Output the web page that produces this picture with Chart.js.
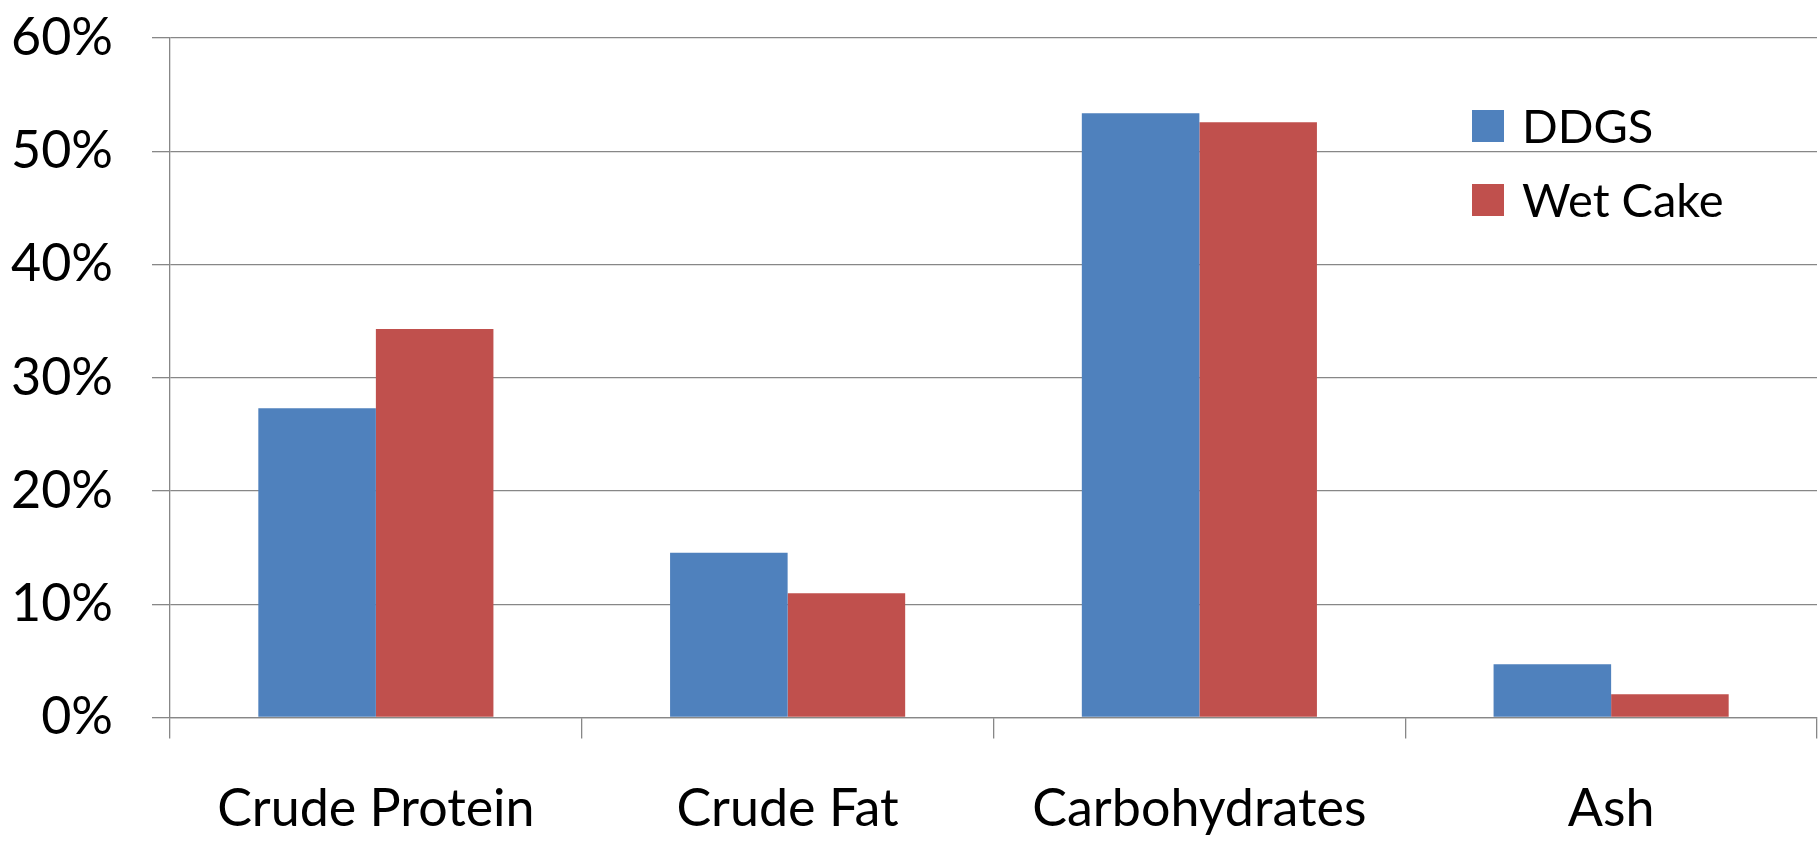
<!DOCTYPE html>
<html>
<head>
<meta charset="utf-8">
<script src="https://cdn.jsdelivr.net/npm/chart.js@4/dist/chart.umd.min.js"></script>
<style>
  html, body { margin: 0; padding: 0; background: #fff; }
  #wrap { width: 1820px; height: 849px; }
</style>
</head>
<body>
<div id="wrap"><canvas id="chart"></canvas></div>
<script>
// Data
const categories = ["Crude Protein", "Crude Fat", "Carbohydrates", "Ash"];
const ddgs = [27.3, 14.55, 53.35, 4.7];
const wetCake = [34.3, 10.97, 52.56, 2.05];
const yTicks = [0, 10, 20, 30, 40, 50, 60];

const FONT = "Lato, 'Open Sans', sans-serif";
const GRID = "#878787";

// Legend drawn inside the plot area, upper right
const insideLegend = {
  id: "insideLegend",
  afterDraw(chart) {
    const ctx = chart.ctx;
    ctx.save();
    ctx.font = "47px " + FONT;
    ctx.textBaseline = "middle";
    ctx.textAlign = "left";
    chart.data.datasets.forEach((ds, i) => {
      const cy = 126 + i * 74;
      ctx.fillStyle = ds.backgroundColor;
      ctx.fillRect(1472, cy - 16, 32, 32);
      ctx.fillStyle = "#000";
      ctx.fillText(ds.label, 1522, cy + 2);
    });
    ctx.restore();
  }
};

new Chart(document.getElementById("chart"), {
  type: "bar",
  data: {
    labels: categories,
    datasets: [
      { label: "DDGS", data: ddgs, backgroundColor: "#4F81BD" },
      { label: "Wet Cake", data: wetCake, backgroundColor: "#C0504D" }
    ]
  },
  options: {
    responsive: true,
    maintainAspectRatio: false,
    animation: false,
    layout: { padding: { top: 38, right: 3, left: 0, bottom: 0 } },
    datasets: {
      bar: { categoryPercentage: 0.571, barPercentage: 1.0 }
    },
    plugins: {
      legend: { display: false },
      tooltip: { enabled: false }
    },
    scales: {
      x: {
        offset: true,
        grid: {
          offset: true,
          drawOnChartArea: false,
          drawTicks: true,
          tickLength: 21,
          color: GRID,
          lineWidth: 1.3
        },
        border: { display: true, color: GRID, width: 1.3 },
        ticks: {
          color: "#000",
          font: { family: FONT, size: 52 },
          padding: 40,
          maxRotation: 0
        },
        afterFit(scale) { scale.height = 131.5; }
      },
      y: {
        min: 0,
        max: 60,
        afterBuildTicks(scale) { scale.ticks = yTicks.map(v => ({ value: v })); },
        grid: {
          color: GRID,
          lineWidth: 1.3,
          drawTicks: true,
          tickLength: 18
        },
        border: { display: true, color: GRID, width: 1.3 },
        ticks: {
          color: "#000",
          font: { family: FONT, size: 52 },
          padding: 39,
          callback: v => v + "%"
        },
        afterFit(scale) {
          scale.width = 170;
          // keep the label padding from pushing the plot down
          scale.paddingTop = 0;
          scale.paddingBottom = 0;
        }
      }
    }
  },
  plugins: [insideLegend]
});
</script>
</body>
</html>
